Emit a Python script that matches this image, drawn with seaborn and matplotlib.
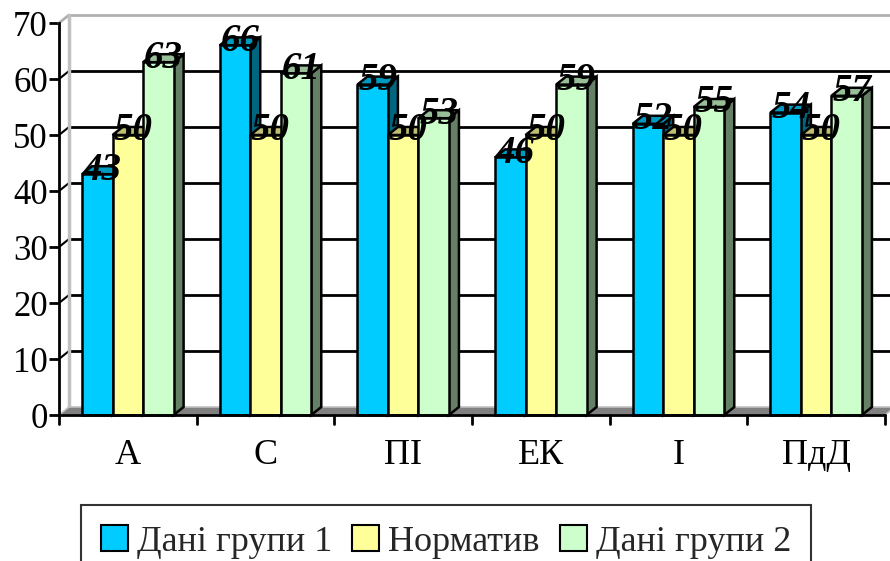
import matplotlib
matplotlib.use("Agg")
import matplotlib.pyplot as plt
import pandas as pd
import seaborn as sns
from matplotlib.patches import Polygon, Rectangle

categories = ["А", "С", "ПІ", "ЕК", "І", "ПдД"]
series_names = ["Дані групи 1", "Норматив", "Дані групи 2"]
group1 = [43, 66, 59, 46, 52, 54]
norm = [50, 50, 50, 50, 50, 50]
group2 = [63, 61, 53, 59, 55, 57]

front_colors = ["#00CCFF", "#FFFF99", "#CCFFCC"]
top_colors = ["#0099BF", "#BFBF73", "#99BF99"]
side_colors = ["#006680", "#80804D", "#668066"]

rows = []
for name, vals in zip(series_names, [group1, norm, group2]):
    for cat, v in zip(categories, vals):
        rows.append({"cat": cat, "series": name, "value": v})
df = pd.DataFrame(rows)

sns.set_theme(style="white")
plt.rcParams["font.family"] = ["Liberation Serif", "DejaVu Serif"]

fig = plt.figure(figsize=(8.9, 5.61), dpi=100)
W, H = 890, 561
ax = fig.add_axes([59 / W, (H - 415) / H, (885 - 59) / W, (415 - 23) / H])
ax.patch.set_visible(False)

ax = sns.barplot(
    data=df, x="cat", y="value", hue="series", order=categories,
    hue_order=series_names, palette=front_colors, width=0.665,
    edgecolor="black", linewidth=1.8, saturation=1, ax=ax,
)
bars = [p for p in ax.patches if isinstance(p, Rectangle)
        and p.get_width() > 0 and p.get_height() > 0]
bars = sorted(bars, key=lambda p: p.get_x())

ax.set_xlim(-0.5, len(categories) - 0.5)
ax.set_ylim(0, 70)

# depth offset of the pseudo-3D look, in data units (~10 px right, ~8 px up)
dx = 10 / 137.7
dy = 8 / 5.6

# back wall gridlines, left wall and floor
x_lo, x_hi = -0.5, len(categories) - 0.5
for t in range(0, 80, 10):
    if t == 70:
        ax.plot([x_lo + dx, x_hi + dx], [t + dy, t + dy], color="#b0b0b0",
                lw=2, zorder=1, clip_on=False)
        ax.plot([x_lo, x_lo + dx], [t, t + dy], color="#b0b0b0", lw=2,
                zorder=1, clip_on=False)
    elif t > 0:
        ax.plot([x_lo + dx, x_hi + dx], [t + dy, t + dy], color="black",
                lw=2, zorder=1, clip_on=False)
        ax.plot([x_lo, x_lo + dx], [t, t + dy], color="black", lw=1.5,
                zorder=1, clip_on=False)
ax.plot([x_lo + dx, x_lo + dx], [dy, 70 + dy], color="#c0c0c0", lw=2.5,
        zorder=1, clip_on=False)
ax.add_patch(Polygon([(x_lo, 0), (x_hi, 0), (x_hi + dx, dy), (x_lo + dx, dy)],
                     closed=True, facecolor="#808080", edgecolor="#c0c0c0",
                     lw=1.2, zorder=1.5, clip_on=False))

for i, p in enumerate(bars):
    k = i % 3
    x0, w, h = p.get_x(), p.get_width(), p.get_height()
    z = 3 + 2 * i
    side = Polygon([(x0 + w, 0), (x0 + w + dx, dy), (x0 + w + dx, h + dy), (x0 + w, h)],
                   closed=True, facecolor=side_colors[k], edgecolor="black",
                   lw=1.8, zorder=z, clip_on=False)
    top = Polygon([(x0, h), (x0 + w, h), (x0 + w + dx, h + dy), (x0 + dx, h + dy)],
                  closed=True, facecolor=top_colors[k], edgecolor="black",
                  lw=1.8, zorder=z, clip_on=False)
    ax.add_patch(side)
    ax.add_patch(top)
    p.set_zorder(z + 1)
    p.set_clip_on(False)
    ax.text(x0 + w / 2 + dx / 2, h + dy / 2, f"{h:.0f}", ha="center",
            va="center", fontsize=28, fontweight="bold", fontstyle="italic",
            color="black", zorder=100)

for s in ["top", "right"]:
    ax.spines[s].set_visible(False)
ax.spines["left"].set_color("black")
ax.spines["left"].set_linewidth(2)
ax.spines["bottom"].set_visible(False)

ax.set_yticks(range(0, 80, 10))
ax.tick_params(axis="y", which="both", left=True, length=7, width=2,
               direction="out", labelsize=25, pad=1, colors="black")
ax.set_xticks([i for i in range(len(categories))])
ax.set_xticklabels(categories)
ax.tick_params(axis="x", bottom=False, labelsize=26, pad=11, colors="black")
# category boundary ticks along the floor edge
ax.plot([x_lo, x_hi], [0, 0], color="black", lw=2, zorder=200, clip_on=False)
for b in range(len(categories) + 1):
    ax.plot([x_lo + b, x_lo + b], [0, -1.6], color="black", lw=2,
            zorder=200, clip_on=False)

ax.set_xlabel(None)
ax.set_ylabel(None)

sns.move_legend(
    ax, "upper center", bbox_to_anchor=(446 / W, (H - 505) / H),
    bbox_transform=fig.transFigure, ncol=3, title=None, frameon=True,
    fontsize=26, handlelength=0.75, handleheight=0.75, handletextpad=0.25,
    columnspacing=0.55, borderpad=0.55, borderaxespad=0,
)
leg = ax.get_legend()
leg.get_frame().set_edgecolor("black")
leg.get_frame().set_linewidth(1.5)
leg.get_frame().set_boxstyle("square", pad=0)
for hnd in leg.legend_handles:
    hnd.set_edgecolor("black")
    hnd.set_linewidth(1.5)

fig.savefig("out.png", dpi=100)
